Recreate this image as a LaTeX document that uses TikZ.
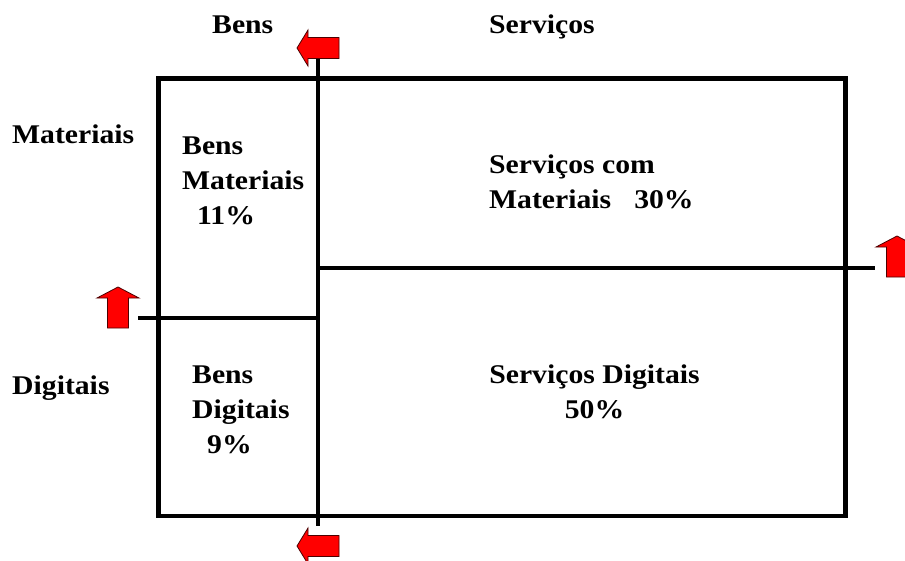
\documentclass[tikz,border=0pt]{standalone}
\usepackage{fontspec}
\setmainfont{Liberation Serif}[FakeStretch=1.1]
\tikzset{
  axisline/.style={line width=4.5pt},
  redarrow/.style={fill=red, draw=black!70!red, line width=0.8pt, line join=miter},
  lbl/.style={inner sep=0pt, anchor=base west, align=left,
    font=\bfseries\fontsize{27}{35}\selectfont},
}
\begin{document}
\begin{tikzpicture}[x=1pt,y=-1pt]
  \useasboundingbox (0,0) rectangle (905,560);
  % quadro
  \coordinate (vtop) at (318,56);
  \coordinate (vbot) at (318,526);
  \coordinate (hl) at (138,318);
  \coordinate (hlm) at (318,318);
  \coordinate (hrm) at (318,268);
  \coordinate (hr) at (875,268);
  \draw[axisline] (158.5,78.5) rectangle (845.5,516);
  \draw[axisline] (vtop) -- (vbot);
  \draw[axisline] (hl) -- (hlm);
  \draw[axisline] (hrm) -- (hr);
  % setas
  \draw[redarrow] (297,48) -- ++(11,-18) -- ++(0,7.5) -- ++(31,0) -- ++(0,21)
    -- ++(-31,0) -- ++(0,7.5) -- cycle;
  \draw[redarrow] (297,546) -- ++(11,-18) -- ++(0,7.5) -- ++(31,0) -- ++(0,21)
    -- ++(-31,0) -- ++(0,7.5) -- cycle;
  \draw[redarrow] (118,287) -- ++(21,11) -- ++(-10.5,0) -- ++(0,30) -- ++(-21,0)
    -- ++(0,-30) -- ++(-10.5,0) -- cycle;
  \draw[redarrow] (897,236) -- ++(21,11) -- ++(-10.5,0) -- ++(0,30) -- ++(-21,0)
    -- ++(0,-30) -- ++(-10.5,0) -- cycle;
  % textos (base = ultima linha)
  \node[lbl] (bens) at (212,33) {Bens};
  \node[lbl] (servicos) at (489,33) {Serviços};
  \node[lbl] (materiais) at (12,143) {Materiais};
  \node[lbl] (digitais) at (12,394) {Digitais};
  \node[lbl] (bm) at (182,224) {Bens\\Materiais\\\hspace*{15pt}11\%};
  \node[lbl] (sm) at (489,208) {Serviços com\\Materiais\hspace*{23pt}30\%};
  \node[lbl] (bd) at (192,453) {Bens\\Digitais\\\hspace*{15pt}9\%};
  \node[lbl, align=center, anchor=base] (sd) at (594.5,418) {Serviços Digitais\\50\%};
\end{tikzpicture}
\end{document}
